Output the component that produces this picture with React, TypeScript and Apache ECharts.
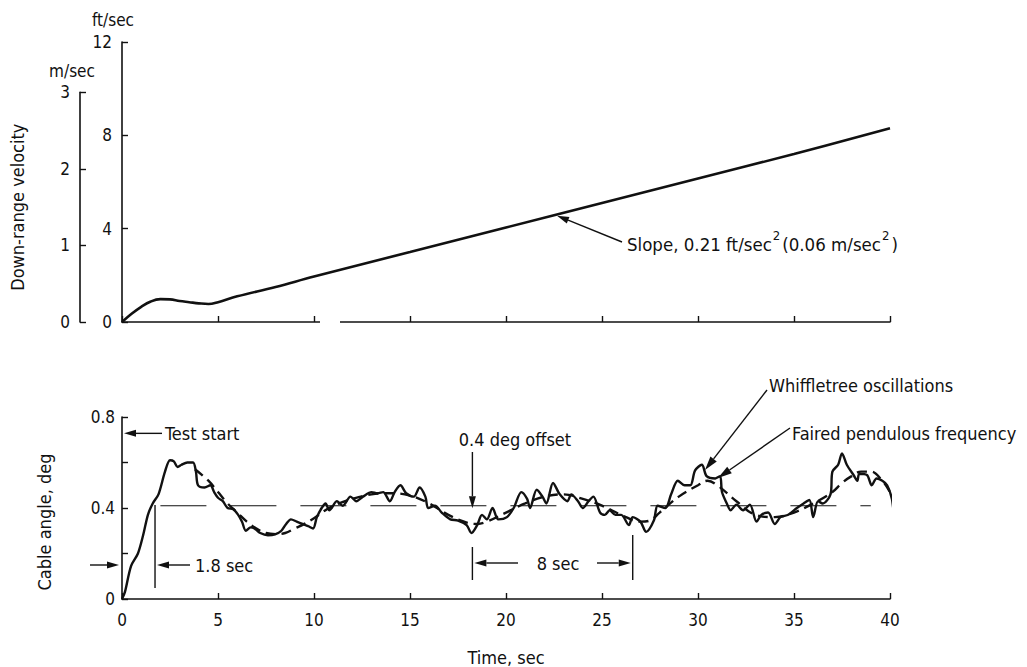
import React, { useEffect, useRef } from "react";
import * as echarts from "echarts";

// ---- Data ----
const velTimes = [0, 0.5, 1, 1.5, 2, 2.5, 3, 3.5, 4, 4.5, 5, 6, 8, 10, 15, 20, 25, 30, 35, 40];
const velFtPerSec = [0, 0.35, 0.65, 0.88, 0.98, 0.97, 0.9, 0.85, 0.8, 0.77, 0.85, 1.1, 1.5, 1.95, 3.0, 4.05, 5.1, 6.15, 7.2, 8.3];

const angleTimes = [0, 0.15, 0.47, 0.83, 1.1, 1.35, 1.6, 1.9, 2.24, 2.5, 2.7, 2.9, 3.1, 3.4, 3.7, 3.85, 3.96, 4.3, 4.6, 4.8, 5.0, 5.25, 5.5, 5.8, 6.05, 6.25, 6.45, 6.7, 6.9, 7.2, 7.6, 8.0, 8.3, 8.55, 8.8, 9.1, 9.4, 9.7, 9.95, 10.15, 10.4, 10.6, 10.8, 11.2, 11.5, 11.9, 12.2, 12.55, 13.0, 13.3, 13.6, 13.95, 14.2, 14.5, 14.8, 15.2, 15.5, 15.8, 15.95, 16.3, 16.65, 17.1, 17.5, 17.95, 18.2, 18.5, 18.75, 19.0, 19.3, 19.6, 20.05, 20.4, 20.8, 21.1, 21.25, 21.6, 21.9, 22.1, 22.45, 22.8, 23.2, 23.4, 23.75, 24.0, 24.3, 24.55, 24.9, 25.15, 25.4, 25.7, 26.0, 26.4, 26.6, 27.0, 27.3, 27.7, 27.9, 28.3, 28.6, 28.95, 29.3, 29.6, 29.85, 30.2, 30.45, 30.9, 31.15, 31.25, 31.5, 31.7, 32.0, 32.35, 32.7, 33.05, 33.3, 33.65, 34.0, 34.3, 34.7, 35.15, 35.5, 35.8, 36.0, 36.25, 36.5, 36.9, 37.0, 37.3, 37.5, 37.75, 38.1, 38.3, 38.4, 38.8, 39.05, 39.3, 39.6, 39.85, 40.1, 40.25, 40.35, 40.5];
const angleDeg = [0, 0.03, 0.145, 0.2, 0.28, 0.37, 0.42, 0.46, 0.56, 0.61, 0.605, 0.58, 0.59, 0.6, 0.6, 0.56, 0.5, 0.49, 0.5, 0.47, 0.445, 0.43, 0.4, 0.395, 0.37, 0.34, 0.3, 0.315, 0.31, 0.29, 0.28, 0.285, 0.3, 0.33, 0.35, 0.34, 0.33, 0.32, 0.31, 0.36, 0.4, 0.42, 0.39, 0.43, 0.41, 0.45, 0.43, 0.45, 0.47, 0.465, 0.47, 0.43, 0.47, 0.5, 0.465, 0.45, 0.49, 0.45, 0.4, 0.41, 0.38, 0.35, 0.345, 0.325, 0.29, 0.325, 0.37, 0.35, 0.4, 0.35, 0.36, 0.4, 0.47, 0.44, 0.4, 0.48, 0.45, 0.42, 0.51, 0.46, 0.43, 0.46, 0.43, 0.4, 0.43, 0.45, 0.38, 0.37, 0.39, 0.37, 0.37, 0.325, 0.36, 0.34, 0.295, 0.345, 0.41, 0.4, 0.46, 0.52, 0.5, 0.5, 0.565, 0.59, 0.54, 0.53, 0.54, 0.47, 0.42, 0.39, 0.415, 0.39, 0.415, 0.34, 0.37, 0.38, 0.33, 0.36, 0.37, 0.4, 0.42, 0.435, 0.36, 0.43, 0.42, 0.46, 0.56, 0.59, 0.64, 0.59, 0.545, 0.52, 0.55, 0.545, 0.5, 0.53, 0.52, 0.5, 0.44, 0.35, 0.42, 0.35];

const fairedTimes = [3.8, 4.5, 5, 5.5, 6, 6.5, 7, 7.5, 8, 8.5, 9, 9.5, 10, 10.5, 11, 12, 13, 14, 15, 16, 17, 18, 18.5, 19, 20, 21, 22, 23, 24, 25, 26, 27, 27.5, 28, 29, 30, 30.5, 31, 32, 33, 34, 35, 36, 37, 37.5, 38, 38.5, 39, 39.5, 40, 40.4];
const fairedDeg = [0.57, 0.52, 0.47, 0.42, 0.38, 0.34, 0.31, 0.29, 0.285, 0.29, 0.31, 0.33, 0.355, 0.385, 0.41, 0.44, 0.46, 0.465, 0.455, 0.42, 0.37, 0.335, 0.33, 0.34, 0.38, 0.42, 0.45, 0.46, 0.44, 0.41, 0.37, 0.34, 0.345, 0.38, 0.45, 0.5, 0.52, 0.5, 0.43, 0.37, 0.36, 0.38, 0.42, 0.47, 0.51, 0.54, 0.56, 0.56, 0.53, 0.47, 0.4];

const offsetTimes = [2, 39];
const offsetDeg = [0.41, 0.41];

const ftTicks = [0, 4, 8, 12];
const msTicks = [0, 1, 2, 3];
const timeTicks = [0, 5, 10, 15, 20, 25, 30, 35, 40];
const angleLabels = ["0", "0.4", "0.8"];

// ---- Layout ----
const FONT = '"DejaVu Sans Condensed", "Liberation Sans Narrow", "Noto Sans", sans-serif';
const INK = "#111";
const G_TOP = { left: 122, top: 42, width: 768, height: 280 };
const FT_TO_M = 0.3048;
const msTop = G_TOP.top + G_TOP.height - (3 / FT_TO_M) * (G_TOP.height / 12);
const G_MS = { left: 80, top: msTop, width: 10, height: G_TOP.top + G_TOP.height - msTop };
const G_BOT = { left: 122, top: 417, width: 768, height: 187 };

const px = (t: number) => G_BOT.left + (t / 40) * G_BOT.width;
const pyB = (a: number) => G_BOT.top + G_BOT.height - (a / 0.8) * G_BOT.height;
const pyT = (v: number) => G_TOP.top + G_TOP.height - (v / 12) * G_TOP.height;

function arrow(x1: number, y1: number, x2: number, y2: number, len = 12, w = 3.5, lw = 1.4) {
  const dx = x2 - x1, dy = y2 - y1;
  const L = Math.hypot(dx, dy);
  const ux = dx / L, uy = dy / L;
  const bx = x2 - ux * len, by = y2 - uy * len;
  const nx = -uy, ny = ux;
  return [
    { type: "line", z: 50, shape: { x1, y1, x2: bx, y2: by }, style: { stroke: INK, lineWidth: lw } },
    { type: "polygon", z: 50, shape: { points: [[x2, y2], [bx + nx * w, by + ny * w], [bx - nx * w, by - ny * w]] }, style: { fill: INK } },
  ];
}
function vline(x: number, y1: number, y2: number) {
  return { type: "line", z: 50, shape: { x1: x, y1, x2: x, y2 }, style: { stroke: INK, lineWidth: 1.4 } };
}
function txt(text: string, x: number, y: number, align = "left", size = 18, extra: any = {}) {
  return {
    type: "text", z: 60, x, y, ...extra,
    style: { text, fill: INK, fontSize: size, fontFamily: FONT, textAlign: align, textVerticalAlign: "middle" },
  };
}

const zip = (a: number[], b: number[]) => a.map((v, i) => [v, b[i]]);

export default function App() {
  const ref = useRef<HTMLDivElement>(null);
  useEffect(() => {
    if (!ref.current) return;
    const chart = echarts.init(ref.current, null, { renderer: "svg" });
    const axisLine = { show: true, lineStyle: { color: INK, width: 1.6 } };
    const tick = { show: true, inside: true, length: 6, lineStyle: { color: INK, width: 1.4 } };
    const lbl = { color: INK, fontSize: 17, fontFamily: FONT };
    const slopeY = pyT(0.85 + 0.21 * 17.66);
    const graphic: any[] = [
      // gap in upper time axis
      { type: "rect", z: 100, shape: { x: 320, y: 318, width: 20, height: 8 }, style: { fill: "#fff" } },
      txt("ft/sec", 113, 20, "center", 17),
      txt("m/sec", 72, 71, "center", 17),
      txt("Down-range velocity", 17, (G_MS.top + G_TOP.top + G_TOP.height) / 2, "center", 18, { rotation: Math.PI / 2 }),
      txt("Cable angle, deg", 44, 522, "center", 18, { rotation: Math.PI / 2 }),
      ...arrow(622, 242, 557, slopeY),
      {
        type: "text", z: 60, x: 627, y: 244,
        style: {
          text: "{a|Slope, 0.21 ft/sec}{s|2}{a|(0.06 m/sec}{s|2}{a|)}",
          fill: INK, fontFamily: FONT, textVerticalAlign: "middle", textAlign: "left",
          rich: {
            a: { fontSize: 18.5, lineHeight: 30, fontFamily: FONT, fill: INK, color: INK },
            s: { fontSize: 13, lineHeight: 14, fontFamily: FONT, fill: INK, color: INK, verticalAlign: "top", padding: [0, 2, 0, 1] },
          },
        },
      },
      // Test start
      ...arrow(162, pyB(0.73), G_BOT.left + 2, pyB(0.73)),
      txt("Test start", 165, pyB(0.73)),
      // 1.8 sec
      ...arrow(90, 565, G_BOT.left - 3, 565),
      vline(px(1.72), 505, 588),
      ...arrow(190, 565, px(1.72) + 2, 565),
      txt("1.8 sec", 195, 565),
      // 0.4 deg offset
      txt("0.4 deg offset", 515, 439, "center"),
      ...arrow(px(18.25), 452, px(18.25), pyB(0.41)),
      // 8 sec
      vline(px(18.25), 547, 580),
      vline(px(26.6), 535, 580),
      ...arrow(518, 563, px(18.25) + 2, 563),
      ...arrow(597, 563, px(26.6) - 2, 563),
      txt("8 sec", 558, 563, "center"),
      // Whiffletree
      ...arrow(767, 390, 705, 470, 14, 4),
      txt("Whiffletree oscillations", 769, 385),
      // Faired
      ...arrow(790, 428, 718, 478, 14, 4),
      txt("Faired pendulous frequency", 792, 433),
    ];

    chart.setOption({
      animation: false,
      backgroundColor: "#fff",
      grid: [
        { ...G_TOP, containLabel: false },
        { ...G_MS, containLabel: false },
        { ...G_BOT, containLabel: false },
      ],
      xAxis: [
        { type: "value", gridIndex: 0, min: 0, max: 40, interval: 5, axisLine, axisTick: tick, axisLabel: { show: false }, splitLine: { show: false } },
        { type: "value", gridIndex: 1, min: 0, max: 1, show: false },
        {
          type: "value", gridIndex: 2, min: 0, max: 40, interval: 5, axisLine, axisTick: tick,
          axisLabel: { ...lbl, margin: 12, formatter: (v: number) => (timeTicks.includes(v) ? String(v) : "") },
          splitLine: { show: false },
          name: "Time, sec", nameLocation: "middle", nameGap: 49,
          nameTextStyle: { color: INK, fontSize: 18, fontFamily: FONT },
        },
      ],
      yAxis: [
        {
          type: "value", gridIndex: 0, min: 0, max: 12, interval: 4, axisLine, axisTick: tick,
          axisLabel: { ...lbl, margin: 10, formatter: (v: number) => (ftTicks.includes(v) ? String(v) : "") },
          splitLine: { show: false },
        },
        {
          type: "value", gridIndex: 1, min: 0, max: 3, interval: 1, axisLine, axisTick: tick,
          axisLabel: { ...lbl, margin: 10, formatter: (v: number) => (msTicks.includes(v) ? String(v) : "") },
          splitLine: { show: false },
        },
        {
          type: "value", gridIndex: 2, min: 0, max: 0.8, interval: 0.2, axisLine, axisTick: tick,
          axisLabel: {
            ...lbl, margin: 7,
            formatter: (v: number) => {
              const s = Math.abs(v) < 1e-9 ? "0" : v.toFixed(1);
              return angleLabels.includes(s) ? s : "";
            },
          },
          splitLine: { show: false },
        },
      ],
      series: [
        {
          type: "line", xAxisIndex: 0, yAxisIndex: 0, data: zip(velTimes, velFtPerSec), smooth: 0.4,
          symbol: "none", lineStyle: { color: INK, width: 2.6 }, clip: false,
        },
        {
          type: "line", xAxisIndex: 2, yAxisIndex: 2, data: zip(offsetTimes, offsetDeg),
          symbol: "none", lineStyle: { color: INK, width: 1.2, type: [46, 24] }, clip: false,
        },
        {
          type: "line", xAxisIndex: 2, yAxisIndex: 2, data: zip(fairedTimes, fairedDeg), smooth: 0.4,
          symbol: "none", lineStyle: { color: INK, width: 2.4, type: [10, 6] }, clip: false,
        },
        {
          type: "line", xAxisIndex: 2, yAxisIndex: 2, data: zip(angleTimes, angleDeg), smooth: 0.3,
          symbol: "none", lineStyle: { color: INK, width: 2.4 }, clip: false,
        },
      ],
      graphic,
    });
    return () => chart.dispose();
  }, []);
  return <div ref={ref} style={{ position: "fixed", left: 0, top: 0, width: 1027, height: 667, background: "#fff" }} />;
}
